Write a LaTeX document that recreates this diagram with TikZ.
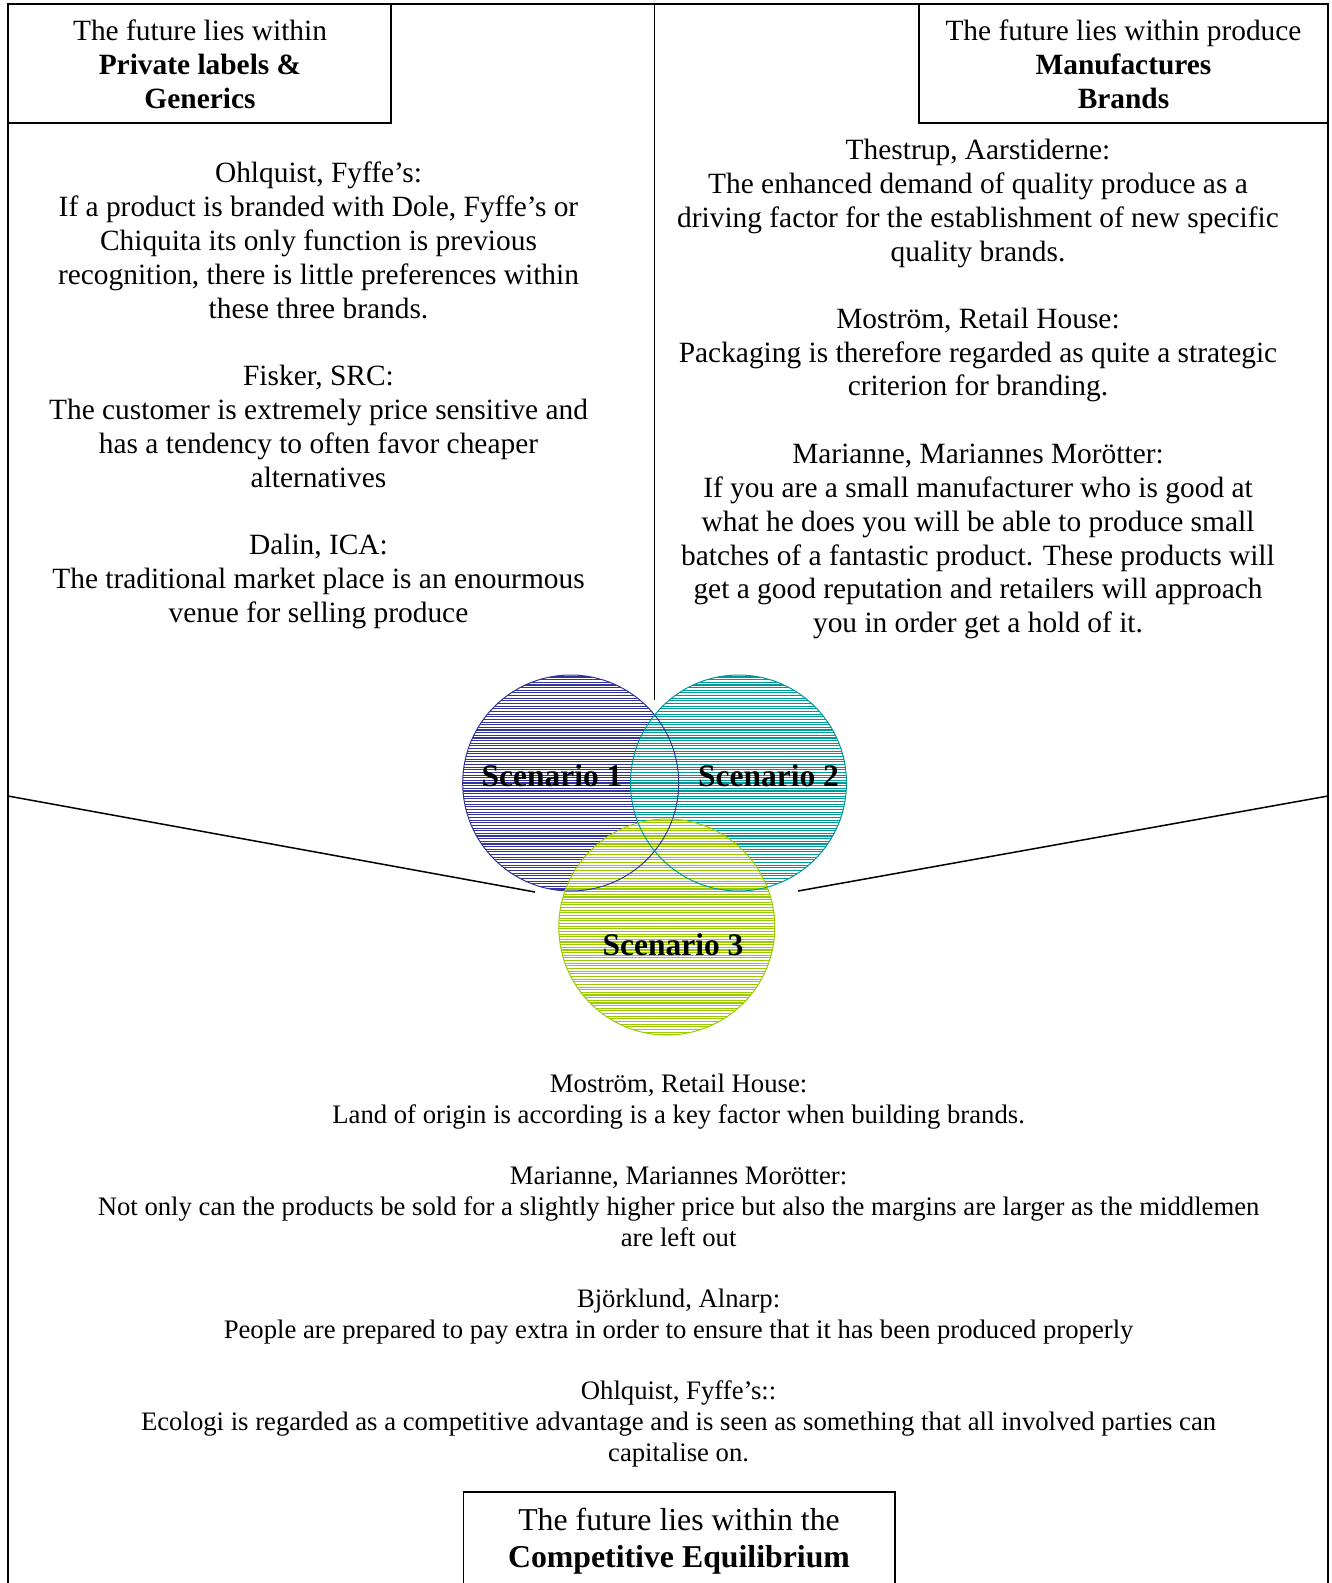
\documentclass[tikz,border=0pt]{standalone}
\usepackage{fontspec}
\setmainfont{Liberation Serif}
\definecolor{sone}{RGB}{51,51,153}
\definecolor{stwo}{RGB}{0,153,153}
\definecolor{sthree}{RGB}{153,204,0}
\tikzset{
  frame/.style={line width=1.5pt, black},
  body/.style={inner sep=0pt, anchor=north, align=center, font=\fontsize{29.4}{33.8}\selectfont},
  bodysmall/.style={inner sep=0pt, anchor=north, align=center, font=\fontsize{26.7}{30.7}\selectfont},
  bighead/.style={inner sep=0pt, anchor=north, align=center, font=\fontsize{31.8}{36.8}\selectfont},
  scen/.style={inner sep=0pt, anchor=base, font=\fontsize{31.5}{36}\selectfont\bfseries},
  venn/.style={circle, minimum size=216pt, inner sep=0pt},
  stripe/.style={line width=1.1pt},
}
\begin{document}
\begin{tikzpicture}[x=1pt,y=-1pt]
\useasboundingbox (0,0) rectangle (1332,1583);
% frame
\coordinate (fbl) at (8,1583);
\coordinate (ftl) at (8,4);
\coordinate (ftr) at (1328,4);
\coordinate (fbr) at (1328,1583);
\draw[frame] (fbl) -- (ftl) -- (ftr) -- (fbr);
% header boxes
\coordinate (hlb) at (8,123);
\coordinate (hlc) at (391,123);
\coordinate (hlt) at (391,4);
\draw[frame] (hlb) -- (hlc) -- (hlt);
\coordinate (hrt) at (919,4);
\coordinate (hrc) at (919,123);
\coordinate (hrb) at (1328,123);
\draw[frame] (hrt) -- (hrc) -- (hrb);
% centre line
\coordinate (ct) at (654.3,4);
\coordinate (cb) at (654.3,700);
\draw[frame] (ct) -- (cb);
% diagonals
\coordinate (dla) at (8,796);
\coordinate (dlb) at (535,892);
\coordinate (dra) at (798,891);
\coordinate (drb) at (1328,796);
\draw[frame] (dla) -- (dlb);
\draw[frame] (dra) -- (drb);
% bottom box
\coordinate (bba) at (463.5,1583);
\coordinate (bbb) at (463.5,1492);
\coordinate (bbc) at (895,1492);
\coordinate (bbd) at (895,1583);
\draw[frame] (bba) -- (bbb) -- (bbc) -- (bbd);

% header texts
\node[body] (hl) at (200,16.6) {\strut The future lies within\\ \textbf{Private labels \&}\\ \textbf{Generics}};
\node[body] (hr) at (1123.5,16.6) {\strut The future lies within produce\\ \textbf{Manufactures}\\ \textbf{Brands}};

% left column
\node[body] (l1) at (318.5,159.0) {\strut Ohlquist, Fyffe’s:\\If a product is branded with Dole, Fyffe’s or\\Chiquita its only function is previous\\recognition, there is little preferences within\\these three brands.};
\node[body] (l2) at (318.5,362.0) {\strut Fisker, SRC:\\The customer is extremely price sensitive and\\has a tendency to often favor cheaper\\alternatives};
\node[body] (l3) at (318.5,530.6) {\strut Dalin, ICA:\\The traditional market place is an enourmous\\venue for selling produce};

% right column
\node[body] (r1) at (978,135.8) {\strut Thestrup, Aarstiderne:\\The enhanced demand of quality produce as a\\driving factor for the establishment of new specific\\quality brands.};
\node[body] (r2) at (978,304.4) {\strut Moström, Retail House:\\Packaging is therefore regarded as quite a strategic\\criterion for branding.};
\node[body] (r3) at (978,439.8) {\strut Marianne, Mariannes Morötter:\\If you are a small manufacturer who is good at\\what he does you will be able to produce small\\batches of a fantastic product. These products will\\get a good reputation and retailers will approach\\you in order get a hold of it.};

% circles
\node[venn] (c1) at (570.7,783) {};
\node[venn] (c2) at (738.5,783) {};
\node[venn] (c3) at (666.8,927) {};
\begin{scope}
  \clip (c1.center) circle[radius=108pt];
  \foreach \k in {-41,...,41}
    \draw[stripe, sone] (c1.center) ++(-112,{\k*2.65}) -- ++(224,0);
\end{scope}
\begin{scope}
  \clip (c2.center) circle[radius=108pt];
  \foreach \k in {-41,...,41}
    \draw[stripe, stwo] (c2.center) ++(-112,{\k*2.65}) -- ++(224,0);
\end{scope}
\begin{scope}
  \clip (c3.center) circle[radius=108pt];
  \foreach \k in {12,...,97}
    \draw[stripe, sthree] (c1.center) ++(-16,{\k*2.65}) -- ++(228,0);
\end{scope}
\draw[sone, line width=1pt] (c1.center) circle[radius=108pt];
\draw[stwo, line width=1pt] (c2.center) circle[radius=108pt];
\draw[sthree, line width=1pt] (c3.center) circle[radius=108pt];
\node[scen] (s1) at (552,786) {Scenario 1};
\node[scen] (s2) at (768.5,786) {Scenario 2};
\node[scen] (s3) at (673,955) {Scenario 3};

% bottom texts
\node[bodysmall] (b1) at (678.6,1071.1) {\strut Moström, Retail House:\\Land of origin is according is a key factor when building brands.};
\node[bodysmall] (b2) at (678.6,1163.0) {\strut Marianne, Mariannes Morötter:\\Not only can the products be sold for a slightly higher price but also the margins are larger as the middlemen\\are left out};
\node[bodysmall] (b3) at (678.6,1286.2) {\strut Björklund, Alnarp:\\People are prepared to pay extra in order to ensure that it has been produced properly};
\node[bodysmall] (b4) at (678.6,1378.1) {\strut Ohlquist, Fyffe’s::\\Ecologi is regarded as a competitive advantage and is seen as something that all involved parties can\\capitalise on.};

% bottom box text
\node[bighead] (bt) at (679,1504.8) {\strut The future lies within the\\ \textbf{Competitive Equilibrium}};
\end{tikzpicture}
\end{document}
